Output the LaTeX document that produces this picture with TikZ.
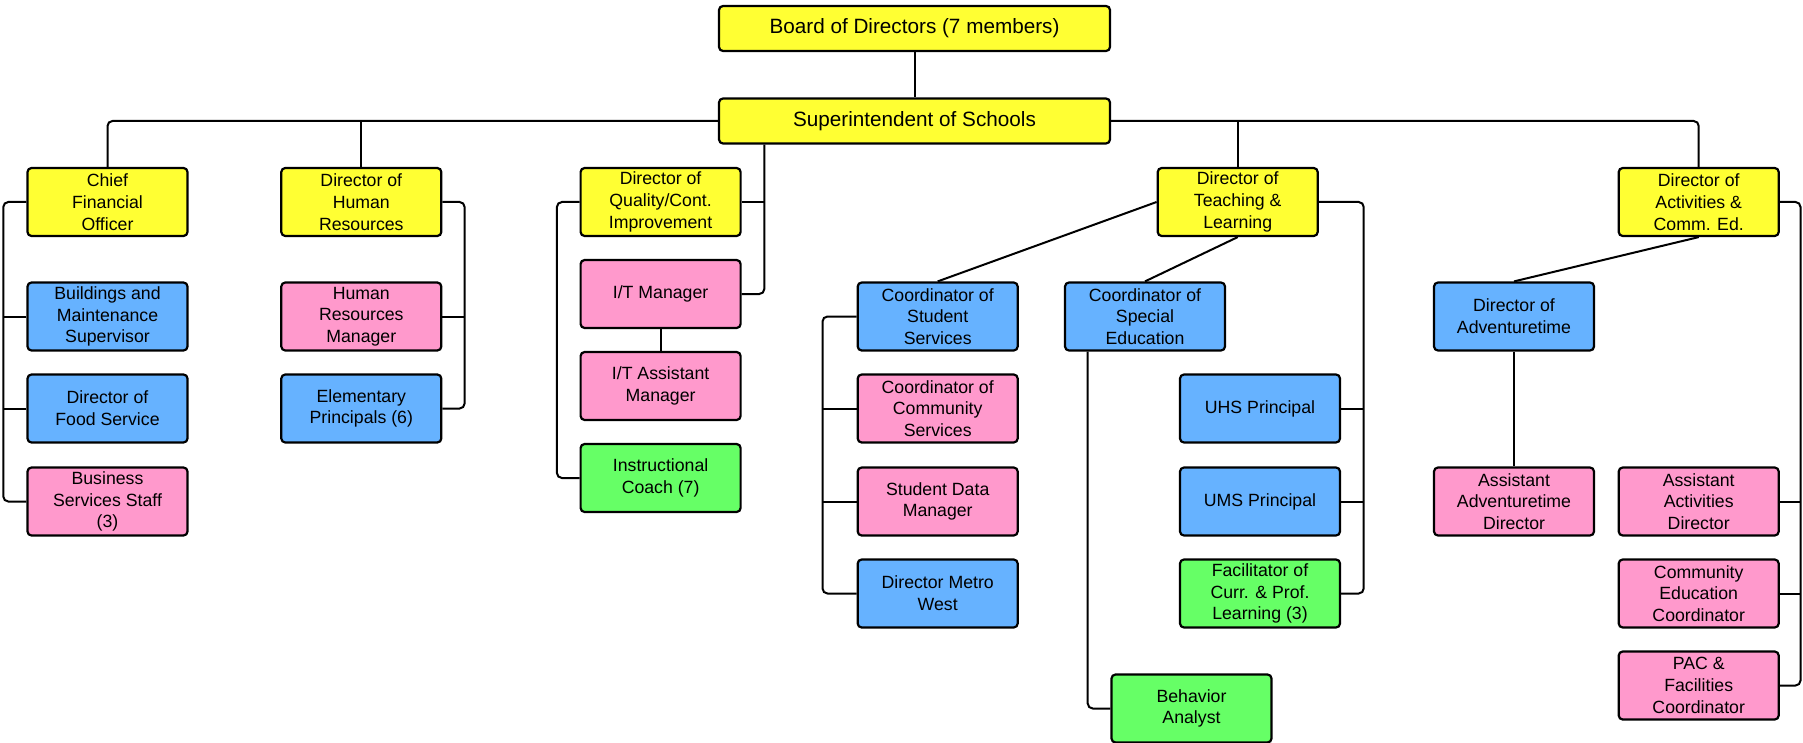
\documentclass[tikz,border=0pt]{standalone}
\usepackage{fontspec}
\setmainfont{Liberation Sans}
\definecolor{yel}{RGB}{255,255,51}
\definecolor{blu}{RGB}{102,178,255}
\definecolor{pnk}{RGB}{255,153,204}
\definecolor{grn}{RGB}{102,255,102}
\begin{document}
\begin{tikzpicture}[x=1pt,y=-1pt,
 box/.style={draw=black, line width=2.2pt, rounded corners=4pt, minimum width=160pt, minimum height=68pt, inner sep=0pt, align=center, font=\fontsize{17.7}{21.7}\selectfont},
 Y/.style={box, fill=yel}, B/.style={box, fill=blu}, P/.style={box, fill=pnk}, G/.style={box, fill=grn},
 big/.style={Y, minimum width=391pt, minimum height=45pt, font=\fontsize{20.7}{24}\selectfont},
 con/.style={draw=black, line width=2pt, rounded corners=5pt}]
\useasboundingbox (0,0) rectangle (1803,743);
% top
\node[big] (board) at (914.5,28.5) {Board of Directors (7 members)};
\node[big] (super) at (914.5,121) {Superintendent of Schools};
% row 1
\node[Y] (cfo) at (107.5,202) {Chief\\Financial\\Officer};
\node[Y] (hr) at (361.3,202) {Director of\\Human\\Resources};
\node[Y] (qual) at (660.6,202) {Director of\\Quality/Cont.\\Improvement};
\node[Y] (tl) at (1237.7,202) {Director of\\Teaching \&\\Learning};
\node[Y] (act) at (1698.7,202) {Director of\\Activities \&\\Comm. Ed.};
% CFO column
\node[B] (bldg) at (107.5,316.5) {Buildings and\\Maintenance\\Supervisor};
\node[B] (food) at (107.5,408.5) {Director of\\Food Service};
\node[P] (buss) at (107.5,501.5) {Business\\Services Staff\\(3)};
% HR column
\node[P] (hrm) at (361.3,316.5) {Human\\Resources\\Manager};
\node[B] (elem) at (361.3,408.5) {Elementary\\Principals (6)};
% Quality column
\node[P] (itm) at (660.6,294) {I/T Manager};
\node[P] (ita) at (660.6,386) {I/T Assistant\\Manager};
\node[G] (ic) at (660.6,478) {Instructional\\Coach (7)};
% Student services column
\node[B] (cstu) at (937.7,316.5) {Coordinator of\\Student\\Services};
\node[P] (comm) at (937.7,408.5) {Coordinator of\\Community\\Services};
\node[P] (sdm) at (937.7,501.5) {Student Data\\Manager};
\node[B] (metro) at (937.7,593.5) {Director Metro\\West};
% Special ed
\node[B] (cspe) at (1145,316.5) {Coordinator of\\Special\\Education};
\node[G] (beh) at (1191.5,708.5) {Behavior\\Analyst};
% T&L right column
\node[B] (uhs) at (1260,408.5) {UHS Principal};
\node[B] (ums) at (1260,501.5) {UMS Principal};
\node[G] (fac) at (1260,593.5) {Facilitator of\\Curr. \& Prof.\\Learning (3)};
% Adventuretime
\node[B] (adv) at (1514,316.5) {Director of\\Adventuretime};
\node[P] (aadv) at (1514,501.5) {Assistant\\Adventuretime\\Director};
% Activities column
\node[P] (aact) at (1698.7,501.5) {Assistant\\Activities\\Director};
\node[P] (ced) at (1698.7,593.5) {Community\\Education\\Coordinator};
\node[P] (pac) at (1698.7,685.5) {PAC \&\\Facilities\\Coordinator};
% bus coordinates
\coordinate (cbus) at (3.3,0);
\coordinate (hbus) at (464.6,0);
\coordinate (qlbus) at (556.9,0);
\coordinate (qrbus) at (764.3,0);
\coordinate (sbus) at (822.5,0);
\coordinate (ebus) at (1087.7,0);
\coordinate (tbus) at (1363.7,0);
\coordinate (abus) at (1800.5,0);
% connectors
\draw[con] (board.south) -- (super.north);
\draw[con] (super.west) -| (cfo.north);
\draw[con] (super.east) -| (act.north);
\draw[con] (hr.north) -- (hr.north |- super.west);
\draw[con] (tl.north) -- (tl.north |- super.east);
% super to IT manager / quality
\draw[con] (qrbus |- super.south) -- (qrbus |- itm.east) -- (itm.east);
\draw[con] (qual.east) -- (qrbus |- qual.east);
\draw[con] (itm.south) -- (ita.north);
\draw[con] (qual.west) -- (qlbus |- qual.west) -- (qlbus |- ic.west) -- (ic.west);
% CFO
\draw[con] (cfo.west) -- (cbus |- cfo.west) -- (cbus |- buss.west) -- (buss.west);
\draw[con] (bldg.west) -- (cbus |- bldg.west);
\draw[con] (food.west) -- (cbus |- food.west);
% HR
\draw[con] (hr.east) -- (hbus |- hr.east) -- (hbus |- elem.east) -- (elem.east);
\draw[con] (hrm.east) -- (hbus |- hrm.east);
% T&L
\draw[con] (tl.west) -- (cstu.north);
\draw[con] (tl.south) -- (cspe.north);
\draw[con] (cstu.west) -- (sbus |- cstu.west) -- (sbus |- metro.west) -- (metro.west);
\draw[con] (comm.west) -- (sbus |- comm.west);
\draw[con] (sdm.west) -- (sbus |- sdm.west);
\draw[con] (ebus |- cspe.south) -- (ebus |- beh.west) -- (beh.west);
\draw[con] (tl.east) -- (tbus |- tl.east) -- (tbus |- fac.east) -- (fac.east);
\draw[con] (uhs.east) -- (tbus |- uhs.east);
\draw[con] (ums.east) -- (tbus |- ums.east);
% Activities
\draw[con] (act.south) -- (adv.north);
\draw[con] (adv.south) -- (aadv.north);
\draw[con] (act.east) -- (abus |- act.east) -- (abus |- pac.east) -- (pac.east);
\draw[con] (aact.east) -- (abus |- aact.east);
\draw[con] (ced.east) -- (abus |- ced.east);
\end{tikzpicture}
\end{document}
